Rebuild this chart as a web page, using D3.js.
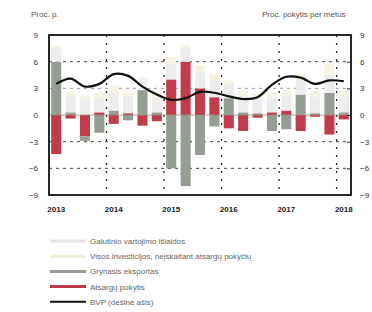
<!DOCTYPE html>
<html>
<head>
<meta charset="utf-8">
<script src="https://cdn.jsdelivr.net/npm/d3@7"></script>
<style>
  body{margin:0;background:#fff;}
  svg{display:block;font-family:"Liberation Sans",Arial,sans-serif;}
  .ax text{font-size:8px;fill:#333;}
  .ax path{display:none;}
  .ax line{stroke:#222;}
</style>
</head>
<body>
<svg id="svg" width="372" height="312"></svg>
<script>
// quarters 2013Q1 .. 2018Q1
const quarters = ["2013Q1","2013Q2","2013Q3","2013Q4","2014Q1","2014Q2","2014Q3","2014Q4",
  "2015Q1","2015Q2","2015Q3","2015Q4","2016Q1","2016Q2","2016Q3","2016Q4",
  "2017Q1","2017Q2","2017Q3","2017Q4","2018Q1"];
const yearLabels = ["2013","2014","2015","2016","2017","2018"];
const yTicks = [-9,-6,-3,0,3,6,9];

// contributions, proc. p.
const inventories = [-4.4,-0.4,-2.4, 0.3,-1.0, 0.2,-1.2,-0.7, 4.0, 6.0, 3.0, 2.0,-1.5,-1.8,-0.3, 0.3, 0.5,-1.8,-0.2,-2.2,-0.5];
const netExports  = [ 6.0, 0.3,-0.5,-2.0, 0.5,-0.6, 2.8, 0.3,-6.0,-8.0,-4.5,-1.3, 1.9, 0.3, 0.2,-1.8,-1.6, 2.3, 0.2, 2.5, 0.3];
const consumption = [ 1.5, 1.8, 1.8, 1.6, 2.0, 1.9, 0.9, 1.7, 1.8, 1.5, 1.8, 2.0, 1.6, 1.8, 1.7, 1.6, 1.8, 1.7, 1.9, 2.0, 1.8];
const investment  = [ 0.3, 0.5, 0.4, 0.6, 0.8, 0.6, 0.5, 0.6, 0.7, 0.4, 0.8, 0.6, 0.4, 0.6, 0.5, 0.7, 0.5, 0.6, 0.6, 1.2, 0.6];
// BVP, proc. pokytis per metus (right axis)
const gdp = [3.5,4.1,3.2,3.5,4.6,4.4,3.2,2.3,1.7,1.9,2.6,2.5,2.1,1.8,2.0,3.4,4.3,4.2,3.5,3.9,3.8];

const seriesKeys = ["inv","nx","cons","invest"];
const seriesColors = {inv:"#c03c4b", nx:"#959e92", cons:"#ececec", invest:"#f6f3e2"};
const legendItems = [
  {label:"Galutinio vartojimo išlaidos", color:"#e6e6e6", w:3},
  {label:"Visos investicijos, neįskaitant atsargų pokyčių", color:"#f3f0da", w:3},
  {label:"Grynasis eksportas", color:"#959e92", w:3},
  {label:"Atsargų pokytis", color:"#c03c4b", w:3},
  {label:"BVP (dešinė ašis)", color:"#111", w:2}
];

const svg = d3.select("#svg");
const L=49, R=351, T=35, B=195;

const x = d3.scaleBand().domain(quarters).range([L,R]).paddingInner(0.3).paddingOuter(0.15);
const y = d3.scaleLinear().domain([-9,9]).range([B,T]);

const rows = quarters.map((q,i)=>({q, inv:inventories[i], nx:netExports[i], cons:consumption[i], invest:investment[i]}));
const stack = d3.stack().keys(seriesKeys).offset(d3.stackOffsetDiverging);
const stacked = stack(rows);

// gridlines
svg.append("g").selectAll("line")
  .data([6,3,-3,-6]).enter().append("line")
  .attr("x1",L).attr("x2",R)
  .attr("y1",d=>y(d)).attr("y2",d=>y(d))
  .attr("stroke",d=>d===3?"#999":"#444")
  .attr("stroke-width",1)
  .attr("stroke-dasharray","3,4");

// year separators
const gap = x.step()*x.paddingInner()/2;
svg.append("g").selectAll("line")
  .data(yearLabels.slice(1)).enter().append("line")
  .attr("x1",d=>x(d+"Q1")-gap).attr("x2",d=>x(d+"Q1")-gap)
  .attr("y1",T).attr("y2",B)
  .attr("stroke","#222").attr("stroke-width",1.3)
  .attr("stroke-dasharray","2,6");

// bars
svg.append("g").selectAll("g")
  .data(stacked).enter().append("g")
  .attr("fill",d=>seriesColors[d.key])
  .selectAll("rect").data(d=>d).enter().append("rect")
  .attr("x",d=>x(d.data.q))
  .attr("width",x.bandwidth())
  .attr("y",d=>y(Math.max(d[0],d[1])))
  .attr("height",d=>Math.abs(y(d[0])-y(d[1])));

// zero line
svg.append("line").attr("x1",L).attr("x2",R).attr("y1",y(0)).attr("y2",y(0))
  .attr("stroke","#a08a80").attr("stroke-width",0.8);

// GDP line
const line = d3.line()
  .x((d,i)=>x(quarters[i])+x.bandwidth()/2)
  .y(d=>y(d))
  .curve(d3.curveCatmullRom.alpha(0.5));
svg.append("path").datum(gdp)
  .attr("d",line).attr("fill","none")
  .attr("stroke","#111").attr("stroke-width",2.2);

// frame
svg.append("rect").attr("x",L).attr("y",T).attr("width",R-L).attr("height",B-T)
  .attr("fill","none").attr("stroke","#111").attr("stroke-width",1.8);

// axes
svg.append("g").attr("class","ax").attr("transform",`translate(${L},0)`)
  .call(d3.axisLeft(y).tickValues(yTicks).tickSize(0).tickPadding(11).tickFormat(d3.format("d")));
svg.append("g").attr("class","ax").attr("transform",`translate(${R},0)`)
  .call(d3.axisRight(y).tickValues(yTicks).tickSizeInner(-4).tickSizeOuter(0).tickPadding(9).tickFormat(d3.format("d")));

// year labels
svg.append("g").selectAll("text")
  .data(yearLabels).enter().append("text")
  .attr("x",d=>x(d+"Q1")+x.bandwidth()/2)
  .attr("y",B+17)
  .attr("text-anchor","middle")
  .attr("font-size",8).attr("font-weight","bold").attr("fill","#222")
  .text(d=>d);

// axis titles
svg.append("text").attr("x",31).attr("y",17).attr("font-size",8).attr("fill","#555").text("Proc. p.");
svg.append("text").attr("x",262).attr("y",17).attr("font-size",8).attr("fill","#555").text("Proc. pokytis per metus");

// legend
const lg = svg.append("g").selectAll("g")
  .data(legendItems).enter().append("g")
  .attr("transform",(d,i)=>`translate(50,${241+i*15.2})`);
lg.append("line").attr("x1",0).attr("x2",36).attr("y1",0).attr("y2",0)
  .attr("stroke",d=>d.color).attr("stroke-width",d=>d.w);
lg.append("text").attr("x",40).attr("y",3).attr("font-size",8).attr("fill","#666")
  .text(d=>d.label);
</script>
</body>
</html>
